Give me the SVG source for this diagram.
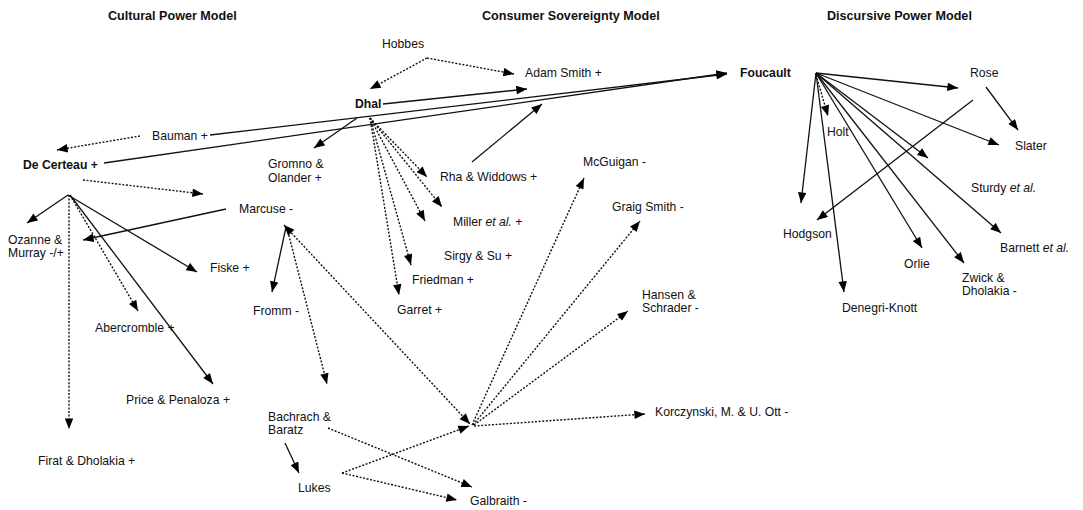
<svg xmlns="http://www.w3.org/2000/svg" width="1083" height="510" viewBox="0 0 1083 510">
<defs>
<marker id="ah" viewBox="0 0 10 8" refX="10" refY="4" markerWidth="12" markerHeight="8.5" markerUnits="userSpaceOnUse" orient="auto-start-reverse">
<path d="M0,0 L10,4 L0,8 Z" fill="#000"/>
</marker>
</defs>
<style>
text{font-family:"Liberation Sans",Arial,sans-serif;font-size:12.2px;fill:#111}
.t{font-weight:bold;font-size:12.6px}
.b{font-weight:bold}
.s{fill:none;stroke:#111;stroke-width:1.3}
.d{fill:none;stroke:#111;stroke-width:1.4;stroke-dasharray:2 1.6}
.a{marker-end:url(#ah)}
</style>
<rect width="1083" height="510" fill="#fff"/>
<g id="titles">
<text class="t" x="108" y="20">Cultural Power Model</text>
<text class="t" x="482" y="20">Consumer Sovereignty Model</text>
<text class="t" x="827" y="20">Discursive Power Model</text>
</g>
<g id="connectors">
<path class="d a" d="M427,58 L370,89"/>
<path class="d a" d="M427,58 L514,74"/>
<path class="s a" d="M383,104 L527,89"/>
<path class="s a" d="M357,118 L314,148"/>
<path class="d a" d="M370,118 L427,177"/>
<path class="d a" d="M370,118 L442,207"/>
<path class="d a" d="M370,118 L425,221"/>
<path class="d a" d="M370,118 L411,265"/>
<path class="d a" d="M370,118 L399,295"/>
<path class="s a" d="M210,135 L727,74"/>
<path class="s a" d="M104,163 L727,73"/>
<path class="s a" d="M472,162 L542,104"/>
<path class="d a" d="M140,136 L57,150"/>
<path class="d a" d="M83,180 L203,194"/>
<path class="s a" d="M68,195 L27,223"/>
<path class="d a" d="M69,195 L69,429"/>
<path class="d a" d="M70,195 L138,311"/>
<path class="s a" d="M68,195 L197,272"/>
<path class="s a" d="M70,195 L213,384"/>
<path class="s a" d="M226,209 L83,240"/>
<path class="s a" d="M286,227 L272,292"/>
<path class="d a" d="M287,228 L327,384"/>
<path class="d a" d="M284,225 L470,424" style="marker-start:url(#ah)"/>
<path class="d a" d="M472,425 L584,178"/>
<path class="d a" d="M473,425 L640,221"/>
<path class="d a" d="M474,425 L628,311"/>
<path class="d a" d="M474,426 L645,414"/>
<path class="s a" d="M285,443 L299,473"/>
<path class="d a" d="M328,428 L472,487"/>
<path class="d a" d="M342,473 L469,426"/>
<path class="d a" d="M342,473 L457,500"/>
<path class="s a" d="M816,73 L958,88"/>
<path class="s a" d="M816,73 L999,145"/>
<path class="d a" d="M816,75 L828,116"/>
<path class="s a" d="M816,73 L928,158"/>
<path class="s a" d="M816,73 L1001,233"/>
<path class="s a" d="M816,73 L964,263"/>
<path class="s a" d="M816,73 L922,248"/>
<path class="s a" d="M816,73 L844,292"/>
<path class="s a" d="M816,73 L801,203"/>
<path class="s a" d="M973,100 L817,220"/>
<path class="s a" d="M986,87 L1018,130"/>
</g>
<g id="hobbes"><text x="382" y="48">Hobbes</text></g>
<g id="adam-smith"><text x="525" y="77">Adam Smith +</text></g>
<g id="dhal"><text class="b" x="355" y="108">Dhal</text></g>
<g id="foucault"><text class="b" x="740" y="77">Foucault</text></g>
<g id="rose"><text x="970" y="77">Rose</text></g>
<g id="slater"><text x="1015" y="150">Slater</text></g>
<g id="holt"><text x="827" y="136">Holt</text></g>
<g id="bauman"><text x="152" y="140">Bauman +</text></g>
<g id="de-certeau"><text class="b" x="23" y="169">De Certeau +</text></g>
<g id="gromno"><text x="268" y="168">Gromno &amp;</text><text x="268" y="182">Olander +</text></g>
<g id="marcuse"><text x="239" y="213">Marcuse -</text></g>
<g id="ozanne"><text x="8" y="244">Ozanne &amp;</text><text x="8" y="257">Murray -/+</text></g>
<g id="fiske"><text x="210" y="272">Fiske +</text></g>
<g id="fromm"><text x="253" y="315">Fromm -</text></g>
<g id="abercromble"><text x="95" y="332">Abercromble +</text></g>
<g id="price"><text x="126" y="404">Price &amp; Penaloza +</text></g>
<g id="firat"><text x="38" y="465">Firat &amp; Dholakia +</text></g>
<g id="bachrach"><text x="268" y="421">Bachrach &amp;</text><text x="268" y="434">Baratz</text></g>
<g id="lukes"><text x="298" y="492">Lukes</text></g>
<g id="galbraith"><text x="470" y="505">Galbraith -</text></g>
<g id="korczynski"><text x="655" y="416">Korczynski, M. &amp; U. Ott -</text></g>
<g id="rha"><text x="440" y="181">Rha &amp; Widdows +</text></g>
<g id="miller"><text x="453" y="226">Miller <tspan font-style="italic">et al.</tspan> +</text></g>
<g id="sirgy"><text x="444" y="260">Sirgy &amp; Su +</text></g>
<g id="friedman"><text x="412" y="284">Friedman +</text></g>
<g id="garret"><text x="397" y="314">Garret +</text></g>
<g id="mcguigan"><text x="583" y="166">McGuigan -</text></g>
<g id="graig"><text x="612" y="211">Graig Smith -</text></g>
<g id="hansen"><text x="642" y="299">Hansen &amp;</text><text x="642" y="312">Schrader -</text></g>
<g id="sturdy"><text x="971" y="192">Sturdy <tspan font-style="italic">et al.</tspan></text></g>
<g id="barnett"><text x="1000" y="252">Barnett <tspan font-style="italic">et al.</tspan></text></g>
<g id="hodgson"><text x="783" y="238">Hodgson</text></g>
<g id="orlie"><text x="904" y="268">Orlie</text></g>
<g id="zwick"><text x="962" y="282">Zwick &amp;</text><text x="962" y="295">Dholakia -</text></g>
<g id="denegri"><text x="842" y="312">Denegri-Knott</text></g>
</svg>
